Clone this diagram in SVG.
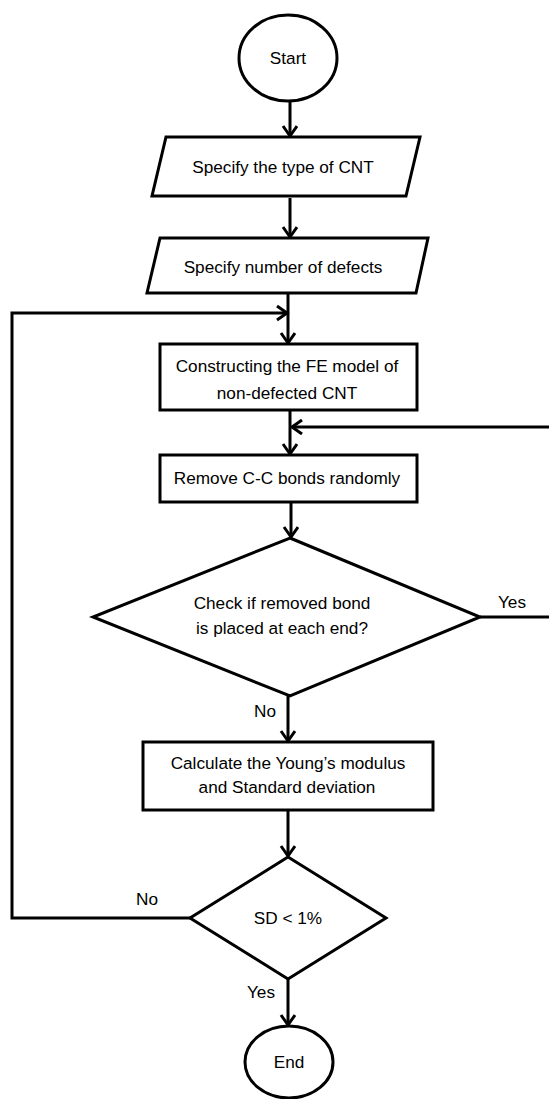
<svg xmlns="http://www.w3.org/2000/svg" width="549" height="1099" viewBox="0 0 549 1099">
<style>
.shape{fill:#fff;stroke:#000;stroke-width:3;stroke-linejoin:miter}
.conn{fill:none;stroke:#000;stroke-width:3}
text{font-family:"Liberation Sans",Arial,sans-serif;font-size:17.2px;fill:#000;text-anchor:middle}
</style>
<defs>
<marker id="arr" markerUnits="userSpaceOnUse" markerWidth="20" markerHeight="20" refX="11" refY="8" orient="auto">
<path d="M1,1 L11,8 L1,15" fill="none" stroke="#000" stroke-width="3"/>
</marker>
</defs>
<g id="connectors">
<line class="conn" x1="290" y1="101" x2="290" y2="136" marker-end="url(#arr)"/>
<line class="conn" x1="290" y1="198" x2="290" y2="237" marker-end="url(#arr)"/>
<line class="conn" x1="288" y1="294" x2="288" y2="343" marker-end="url(#arr)"/>
<line class="conn" x1="290" y1="410" x2="290" y2="454" marker-end="url(#arr)"/>
<line class="conn" x1="291" y1="502" x2="291" y2="537" marker-end="url(#arr)"/>
<line class="conn" x1="288" y1="696" x2="288" y2="741" marker-end="url(#arr)"/>
<line class="conn" x1="288" y1="811" x2="288" y2="856" marker-end="url(#arr)"/>
<line class="conn" x1="288" y1="979" x2="288" y2="1025" marker-end="url(#arr)"/>
<path class="conn" d="M190,918 H12 V313 H287" marker-end="url(#arr)"/>
<path class="conn" d="M480,617 H553 V427 H292" marker-end="url(#arr)"/>
<text x="512" y="608">Yes</text>
<text x="265" y="717">No</text>
<text x="147" y="905">No</text>
<text x="261" y="998">Yes</text>
</g>
<g id="start">
<ellipse class="shape" cx="288" cy="58" rx="49" ry="43"/>
<text x="288" y="64">Start</text>
</g>
<g id="type">
<polygon class="shape" points="166,137 420,137 406,196 152,196"/>
<text x="283" y="173">Specify the type of CNT</text>
</g>
<g id="defects">
<polygon class="shape" points="160,238 428,238 416,293 147,293"/>
<text x="283" y="273">Specify number of defects</text>
</g>
<g id="construct">
<rect class="shape" x="160" y="344" width="257" height="66"/>
<text x="287" y="372">Constructing the FE model of</text>
<text x="287" y="399">non-defected CNT</text>
</g>
<g id="remove">
<rect class="shape" x="160" y="455" width="257" height="47"/>
<text x="287" y="484">Remove C-C bonds randomly</text>
</g>
<g id="check">
<polygon class="shape" points="290,538 480,617 290,696 93,617"/>
<text x="282" y="609">Check if removed bond</text>
<text x="282" y="634">is placed at each end?</text>
</g>
<g id="calc">
<rect class="shape" x="143" y="742" width="290" height="68"/>
<text x="288" y="769">Calculate the Young’s modulus</text>
<text x="287" y="793">and Standard deviation</text>
</g>
<g id="sd">
<polygon class="shape" points="288,857 386,918 288,979 190,918"/>
<text x="288" y="924">SD &lt; 1%</text>
</g>
<g id="end">
<ellipse class="shape" cx="289" cy="1062" rx="44" ry="36"/>
<text x="289" y="1068">End</text>
</g>
</svg>
